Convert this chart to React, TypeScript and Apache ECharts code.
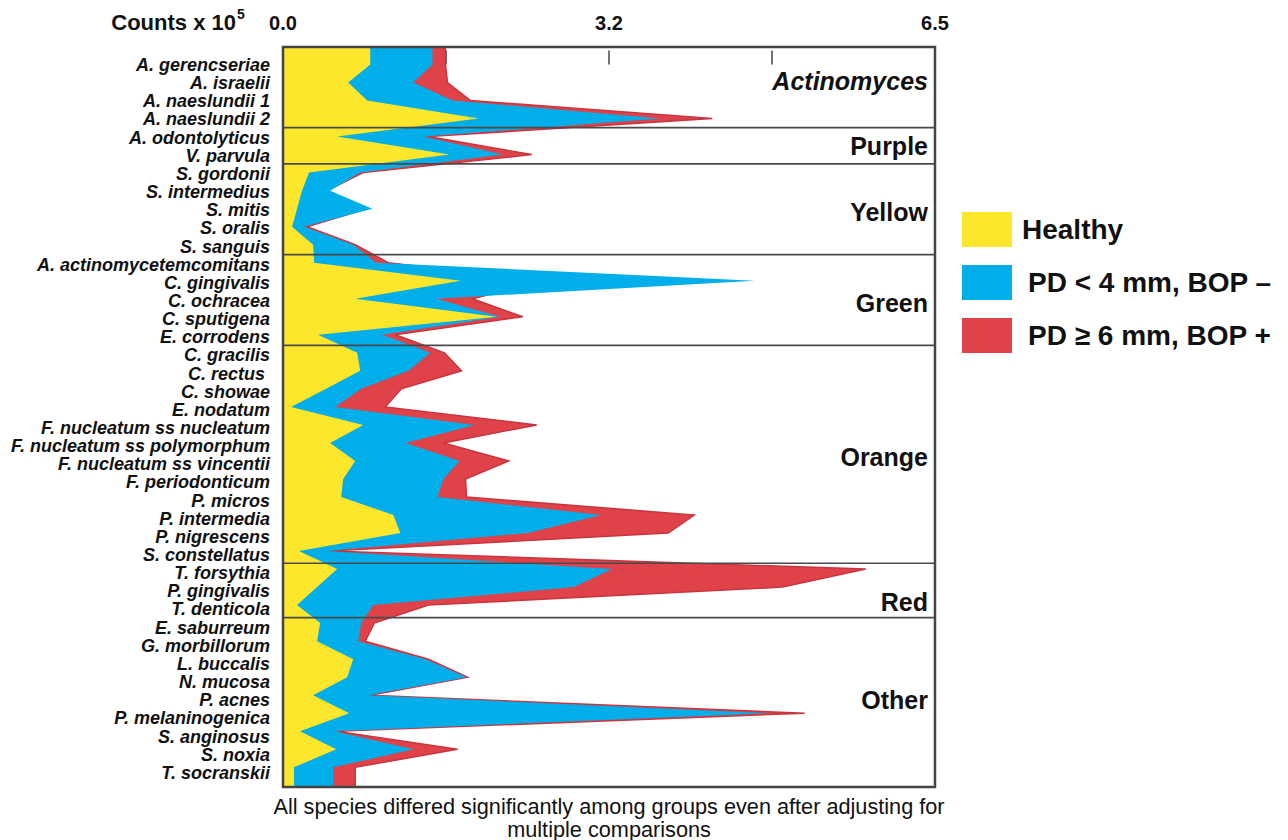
import React, { useEffect, useRef } from 'react';
import * as echarts from 'echarts';

// ---------------- data ----------------
const species = [
  'A. gerencseriae', 'A. israelii', 'A. naeslundii 1', 'A. naeslundii 2',
  'A. odontolyticus', 'V. parvula',
  'S. gordonii', 'S. intermedius', 'S. mitis', 'S. oralis', 'S. sanguis',
  'A. actinomycetemcomitans', 'C. gingivalis', 'C. ochracea', 'C. sputigena', 'E. corrodens',
  'C. gracilis', 'C. rectus ', 'C. showae', 'E. nodatum', 'F. nucleatum ss nucleatum',
  'F. nucleatum ss polymorphum', 'F. nucleatum ss vincentii', 'F. periodonticum', 'P. micros',
  'P. intermedia', 'P. nigrescens', 'S. constellatus',
  'T. forsythia', 'P. gingivalis', 'T. denticola',
  'E. saburreum', 'G. morbillorum', 'L. buccalis', 'N. mucosa', 'P. acnes',
  'P. melaninogenica', 'S. anginosus', 'S. noxia', 'T. socranskii',
];

// Counts x 10^5
const healthy = [
  0.87, 0.65, 0.84, 1.95, 0.54, 1.66, 0.26, 0.19, 0.14, 0.09,
  0.30, 0.31, 1.77, 0.72, 2.13, 0.35, 0.74, 0.77, 0.43, 0.08,
  0.80, 0.47, 0.72, 0.60, 0.58, 1.10, 1.17, 0.16, 0.54, 0.34,
  0.14, 0.37, 0.34, 0.70, 0.64, 0.30, 0.66, 0.17, 0.53, 0.11,
];
const pdShallow = [
  1.49, 1.30, 1.69, 3.76, 1.40, 2.19, 0.77, 0.47, 0.89, 0.21,
  0.70, 0.93, 4.70, 1.53, 2.16, 0.99, 1.47, 1.25, 0.78, 0.52,
  1.91, 1.22, 1.76, 1.60, 1.54, 3.17, 2.44, 0.44, 3.28, 2.90,
  0.90, 0.78, 0.75, 1.42, 1.83, 0.85, 4.87, 0.51, 1.30, 0.50,
];
const pdDeep = [
  1.62, 1.64, 1.87, 4.28, 1.45, 2.48, 0.80, 0.44, 0.84, 0.24,
  0.72, 1.05, 2.60, 1.89, 2.39, 1.12, 1.61, 1.78, 1.18, 1.02,
  2.53, 1.60, 2.25, 1.82, 1.83, 4.10, 3.84, 0.46, 5.81, 4.98,
  1.45, 0.91, 0.82, 1.45, 1.84, 0.87, 5.20, 0.53, 1.74, 0.72,
];

const seriesNames = ['Healthy', 'PD < 4 mm, BOP \u2013', 'PD \u2265 6 mm, BOP +'];

const groupNames = ['Actinomyces', 'Purple', 'Yellow', 'Green', 'Orange', 'Red', 'Other'];
const groupLastIndex = [3, 5, 10, 15, 27, 30, 39];
const groupLabelRow = [0.9, 4.45, 8.1, 13.1, 21.6, 29.6, 35.0];

const xTickValues = [0, 3.25, 6.5];
const xTickLabels = ['0.0', '3.2', '6.5'];

// ---------------- layout / style ----------------
const FONT = '"Liberation Sans", Arial, Helvetica, sans-serif';
const X_MAX = 6.5;
const DATA_MIN = -0.971;
const DATA_MAX = 40.094;
const LABEL_MIN = -0.992;
const LABEL_MAX = 39.78;

const COLORS = {
  healthy: '#FCE72C',
  shallow: '#00AEEA',
  deep: '#E0424A',
  deepEdge: '#C7363E',
  frame: '#444444',
};

function makeArea(name: string, values: number[], color: string, stroke?: string) {
  return {
    type: 'custom',
    name,
    coordinateSystem: 'cartesian2d',
    xAxisIndex: 0,
    yAxisIndex: 0,
    data: values.map((v, i) => [v, i]),
    encode: { x: 0, y: 1 },
    itemStyle: { color },
    silent: true,
    renderItem: (params: any, api: any) => {
      if (params.dataIndex !== 0) return null;
      const pts: number[][] = [];
      pts.push(api.coord([0, DATA_MIN]));
      pts.push(api.coord([values[0], DATA_MIN]));
      values.forEach((v, i) => pts.push(api.coord([v, i])));
      pts.push(api.coord([values[values.length - 1], DATA_MAX]));
      pts.push(api.coord([0, DATA_MAX]));
      return {
        type: 'polygon',
        shape: { points: pts },
        style: {
          fill: color,
          stroke: stroke || null,
          lineWidth: stroke ? 1.5 : 0,
          lineJoin: 'miter',
        },
      };
    },
  };
}

export default function App() {
  const ref = useRef<HTMLDivElement>(null);

  useEffect(() => {
    if (!ref.current) return;
    const chart = echarts.init(ref.current, undefined, { renderer: 'svg' });

    const option: any = {
      animation: false,
      backgroundColor: '#ffffff',
      textStyle: { fontFamily: FONT },
      grid: {
        left: 283,
        top: 47,
        width: 652,
        height: 740,
        show: false,
        containLabel: false,
        outerBoundsMode: 'none',
      },
      xAxis: {
        type: 'value',
        position: 'top',
        min: 0,
        max: X_MAX,
        interval: 1.625,
        axisLine: { show: false },
        axisTick: { show: true, length: 14, lineStyle: { color: COLORS.frame, width: 1.5 } },
        splitLine: { show: false },
        axisLabel: {
          margin: 14,
          fontSize: 20,
          fontWeight: 'bold',
          color: '#111',
          fontFamily: FONT,
          formatter: (v: number) => {
            const k = xTickValues.findIndex((t) => Math.abs(t - v) < 1e-6);
            return k >= 0 ? xTickLabels[k] : '';
          },
        },
      },
      yAxis: [
        {
          type: 'value',
          min: DATA_MIN,
          max: DATA_MAX,
          inverse: true,
          show: false,
        },
        {
          type: 'value',
          position: 'left',
          min: LABEL_MIN,
          max: LABEL_MAX,
          inverse: true,
          axisLine: { show: false },
          axisTick: { show: false },
          splitLine: { show: false },
          axisLabel: {
            customValues: species.map((_, i) => i),
            formatter: (v: number) => species[Math.round(v)] ?? '',
            margin: 13,
            fontSize: 18,
            fontWeight: 'bold',
            fontStyle: 'italic',
            color: '#111',
            fontFamily: FONT,
          },
        },
      ],
      legend: {
        orient: 'vertical',
        left: 962,
        top: 212,
        padding: 0,
        itemWidth: 50,
        itemHeight: 35,
        itemGap: 18,
        selectedMode: false,
        icon: 'rect',
        textStyle: { fontSize: 28, fontWeight: 'bold', color: '#111', fontFamily: FONT },
        data: [
          { name: seriesNames[0], itemStyle: { color: COLORS.healthy }, textStyle: { padding: [0, 0, 0, 5] } },
          { name: seriesNames[1], itemStyle: { color: COLORS.shallow }, textStyle: { padding: [0, 0, 0, 11] } },
          { name: seriesNames[2], itemStyle: { color: COLORS.deep }, textStyle: { padding: [0, 0, 0, 11] } },
        ],
      },
      series: [
        makeArea(seriesNames[2], pdDeep, COLORS.deep, COLORS.deepEdge),
        makeArea(seriesNames[1], pdShallow, COLORS.shallow),
        makeArea(seriesNames[0], healthy, COLORS.healthy),
        {
          type: 'custom',
          coordinateSystem: 'cartesian2d',
          xAxisIndex: 0,
          yAxisIndex: 1,
          silent: true,
          z: 5,
          data: groupLastIndex.slice(0, -1).map((i) => [0, i + 0.45]),
          renderItem: (params: any, api: any) => {
            const y = api.value(1);
            const p0 = api.coord([0, y]);
            const p1 = api.coord([X_MAX, y]);
            return {
              type: 'line',
              shape: { x1: p0[0], y1: p0[1], x2: p1[0], y2: p1[1] },
              style: { stroke: '#4a4a4a', lineWidth: 1.6 },
            };
          },
        },
        {
          type: 'custom',
          coordinateSystem: 'cartesian2d',
          xAxisIndex: 0,
          yAxisIndex: 1,
          silent: true,
          z: 6,
          data: [[0, 0]],
          renderItem: (params: any, api: any) => {
            const a = api.coord([0, LABEL_MIN]);
            const b = api.coord([X_MAX, LABEL_MAX]);
            return {
              type: 'rect',
              shape: { x: a[0], y: a[1], width: b[0] - a[0], height: b[1] - a[1] },
              style: { fill: 'none', stroke: COLORS.frame, lineWidth: 2.5 },
            };
          },
        },
        {
          type: 'custom',
          coordinateSystem: 'cartesian2d',
          xAxisIndex: 0,
          yAxisIndex: 1,
          silent: true,
          z: 7,
          data: groupLabelRow.map((r) => [6.43, r]),
          renderItem: (params: any, api: any) => {
            const p = api.coord([api.value(0), api.value(1)]);
            const name = groupNames[params.dataIndex];
            return {
              type: 'text',
              x: p[0],
              y: p[1],
              style: {
                text: name,
                fill: '#111',
                fontSize: 25,
                fontWeight: 'bold',
                fontStyle: name === 'Actinomyces' ? 'italic' : 'normal',
                fontFamily: FONT,
                align: 'right',
                verticalAlign: 'middle',
              },
            };
          },
        },
      ],
      graphic: [
        {
          type: 'text',
          x: 236,
          y: 22,
          style: {
            text: 'Counts x 10', fontSize: 22, fontWeight: 'bold', fill: '#111', fontFamily: FONT,
            align: 'right', verticalAlign: 'middle',
          },
        },
        {
          type: 'text',
          x: 237,
          y: 14,
          style: {
            text: '5', fontSize: 14, fontWeight: 'bold', fill: '#111', fontFamily: FONT,
            align: 'left', verticalAlign: 'middle',
          },
        },
        {
          type: 'text',
          x: 609,
          y: 806,
          style: {
            text: 'All species differed significantly among groups even after adjusting for',
            fontSize: 21.7, fill: '#111', fontFamily: FONT,
            align: 'center', verticalAlign: 'middle',
          },
        },
        {
          type: 'text',
          x: 609,
          y: 829,
          style: {
            text: 'multiple comparisons',
            fontSize: 21.7, fill: '#111', fontFamily: FONT,
            align: 'center', verticalAlign: 'middle',
          },
        },
      ],
    };

    chart.setOption(option);
    return () => chart.dispose();
  }, []);

  return (
    <div
      ref={ref}
      style={{ position: 'fixed', left: 0, top: 0, width: 1288, height: 840, background: '#fff' }}
    />
  );
}
